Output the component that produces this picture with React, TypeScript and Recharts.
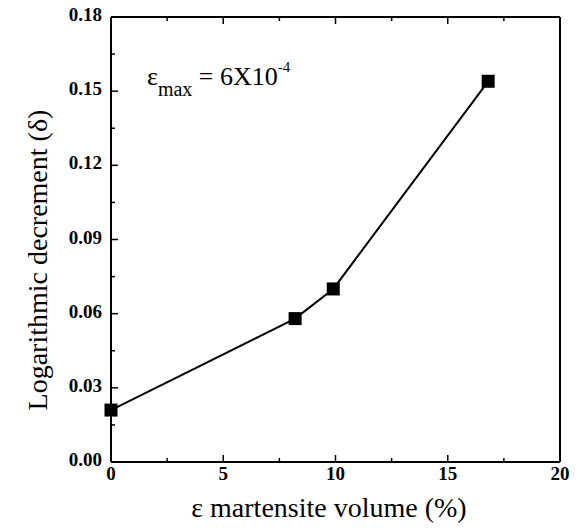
import React from 'react';
import { LineChart, Line, XAxis, YAxis, Customized } from 'recharts';

// ─── Data ─────────────────────────────────────────────────────────────────────
const volume = [0, 8.2, 9.9, 16.8];
const decrement = [0.021, 0.058, 0.07, 0.154];

const xMajor = [0, 5, 10, 15, 20];
const xTicks = [0, 2.5, 5, 7.5, 10, 12.5, 15, 17.5, 20];
const yMajor = [0, 0.03, 0.06, 0.09, 0.12, 0.15, 0.18];
const yTicks = [0, 0.015, 0.03, 0.045, 0.06, 0.075, 0.09, 0.105, 0.12, 0.135, 0.15, 0.165, 0.18];

const data = volume.map((v, i) => ({ x: v, y: decrement[i] }));

const SERIF = 'Liberation Serif';

// ─── Inward ticks ─────────────────────────────────────────────────────────────
const BottomTick = ({ x, y, payload }: any) => {
  const major = xMajor.includes(payload.value);
  return (
    <g>
      <line x1={x} x2={x} y1={y} y2={y - (major ? 7 : 4)} stroke="#000" strokeWidth={1.5} />
      {major && (
        <text x={x} y={y + 18} textAnchor="middle" fontFamily={SERIF} fontWeight="bold" fontSize={19} fill="#000">
          {payload.value}
        </text>
      )}
    </g>
  );
};

const TopTick = ({ x, y, payload }: any) => {
  const major = xMajor.includes(payload.value);
  return <line x1={x} x2={x} y1={y} y2={y + (major ? 7 : 4)} stroke="#000" strokeWidth={1.5} />;
};

const LeftTick = ({ x, y, payload }: any) => {
  const major = yMajor.includes(payload.value);
  return (
    <g>
      <line x1={x} x2={x + (major ? 7 : 4)} y1={y} y2={y} stroke="#000" strokeWidth={1.5} />
      {major && (
        <text x={x - 9} y={y + 4} textAnchor="end" fontFamily={SERIF} fontWeight="bold" fontSize={19} fill="#000">
          {payload.value.toFixed(2)}
        </text>
      )}
    </g>
  );
};

const RightTick = ({ x, y, payload }: any) => {
  const major = yMajor.includes(payload.value);
  return <line x1={x} x2={x - (major ? 7 : 4)} y1={y} y2={y} stroke="#000" strokeWidth={1.5} />;
};

// ─── Titles & annotation ──────────────────────────────────────────────────────
const Titles = () => (
  <g fill="#000">
    <text x={329} y={517} textAnchor="middle" fontSize={28} fontFamily={SERIF}>
      ε martensite volume (%)
    </text>
    <text x={47} y={260} textAnchor="middle" fontSize={28} fontFamily={SERIF} transform="rotate(-90, 47, 260)">
      Logarithmic decrement (δ)
    </text>
    <text x={147} y={85} fontSize={26} fontFamily={SERIF}>
      ε
      <tspan fontSize={20} dy={11}>max</tspan>
      <tspan fontSize={26} dy={-11}> = 6X10</tspan>
      <tspan fontSize={15} dy={-13}>-4</tspan>
    </text>
  </g>
);

const Square = ({ cx, cy }: any) => (
  <rect x={cx - 6.5} y={cy - 6.5} width={13} height={13} fill="#000" />
);

export default function App() {
  return (
    <div style={{ position: 'absolute', left: 0, top: 0, background: '#fff' }}>
      <LineChart width={585} height={528} data={data} margin={{ top: 12, right: 20, bottom: 36, left: 41 }}>
        <XAxis
          dataKey="x" type="number" domain={[0, 20]} ticks={xTicks}
          axisLine={{ stroke: '#000', strokeWidth: 2 }} tickLine={false}
          tickSize={0} tickMargin={0} tick={<BottomTick />} height={30} interval={0}
        />
        <XAxis
          xAxisId="top" orientation="top" dataKey="x" type="number" domain={[0, 20]} ticks={xTicks}
          axisLine={{ stroke: '#000', strokeWidth: 2 }} tickLine={false}
          tickSize={0} tickMargin={0} tick={<TopTick />} height={5} interval={0}
        />
        <YAxis
          type="number" domain={[0, 0.18]} ticks={yTicks}
          axisLine={{ stroke: '#000', strokeWidth: 2 }} tickLine={false}
          tickSize={0} tickMargin={0} tick={<LeftTick />} width={70} interval={0}
        />
        <YAxis
          yAxisId="right" orientation="right" type="number" domain={[0, 0.18]} ticks={yTicks}
          axisLine={{ stroke: '#000', strokeWidth: 2 }} tickLine={false}
          tickSize={0} tickMargin={0} tick={<RightTick />} width={5} interval={0}
        />
        <Line
          dataKey="y" stroke="#000" strokeWidth={2} dot={<Square />}
          activeDot={false} isAnimationActive={false}
        />
        <Customized component={<Titles />} />
      </LineChart>
    </div>
  );
}
